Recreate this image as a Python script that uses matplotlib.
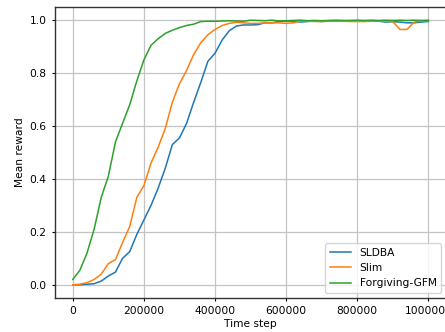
import matplotlib
matplotlib.use("Agg")
import matplotlib.pyplot as plt
import numpy as np

# pasos de tiempo (cada 20000)
steps = np.arange(0, 1000001, 20000)

sldba = [0.0, 0.0, 0.002, 0.004, 0.014, 0.033, 0.048, 0.10, 0.125, 0.19,
         0.245, 0.30, 0.365, 0.44, 0.53, 0.555, 0.61, 0.69, 0.765, 0.845,
         0.875, 0.925, 0.96, 0.978, 0.982, 0.982, 0.983, 0.99, 0.99, 0.995,
         0.997, 0.996, 0.993, 0.995, 0.997, 0.995, 0.997, 0.996, 0.997, 0.998,
         0.997, 0.996, 0.997, 0.996, 0.993, 0.994, 0.993, 0.99, 0.99, 0.993,
         0.995]
slim = [0.0, 0.002, 0.008, 0.02, 0.04, 0.08, 0.095, 0.16, 0.22, 0.33,
        0.375, 0.46, 0.52, 0.59, 0.69, 0.76, 0.81, 0.87, 0.915, 0.945,
        0.965, 0.98, 0.988, 0.992, 0.99, 0.988, 0.988, 0.99, 0.99, 0.99,
        0.988, 0.99, 0.997, 0.996, 0.995, 0.995, 0.996, 0.997, 0.996, 0.995,
        0.995, 0.995, 0.996, 0.997, 0.996, 0.995, 0.965, 0.965, 0.993, 0.997,
        0.998]
gfm = [0.02, 0.055, 0.12, 0.21, 0.33, 0.41, 0.54, 0.61, 0.68, 0.77,
       0.85, 0.905, 0.93, 0.95, 0.962, 0.972, 0.98, 0.985, 0.995, 0.996,
       0.996, 0.997, 0.998, 0.997, 0.996, 1.0, 0.999, 0.998, 1.0, 0.997,
       0.998, 0.999, 1.0, 0.998, 0.999, 0.998, 0.999, 1.0, 0.999, 0.999,
       1.0, 0.999, 1.0, 0.999, 1.0, 0.999, 1.0, 0.999, 1.0, 0.999,
       1.0]

fs = 7.7
fig = plt.figure(figsize=(4.45, 3.32), dpi=100)
ax = fig.add_axes([0.1236, 0.1024, 0.879, 0.8766])
ax.plot(steps, sldba, lw=1.1, label="SLDBA")
ax.plot(steps, slim, lw=1.1, label="Slim")
ax.plot(steps, gfm, lw=1.1, label="Forgiving-GFM")
ax.grid(True, color="#c4c4c4", lw=0.9)
ax.set_xlim(-50000, 1050000)
ax.set_ylim(-0.05, 1.05)
ax.set_xticks([0, 200000, 400000, 600000, 800000, 1000000])
ax.set_xticklabels(["0", "200000", "400000", "600000", "800000", "1000000"])
ax.tick_params(labelsize=fs, length=2.5)
for s in ax.spines.values():
    s.set_color("#333333")
    s.set_linewidth(1.0)
ax.set_xlabel("Time step", fontsize=fs, labelpad=2)
ax.set_ylabel("Mean reward", fontsize=fs, labelpad=3)
ax.legend(loc="lower right", fontsize=fs)
fig.savefig("out.png", dpi=100)
